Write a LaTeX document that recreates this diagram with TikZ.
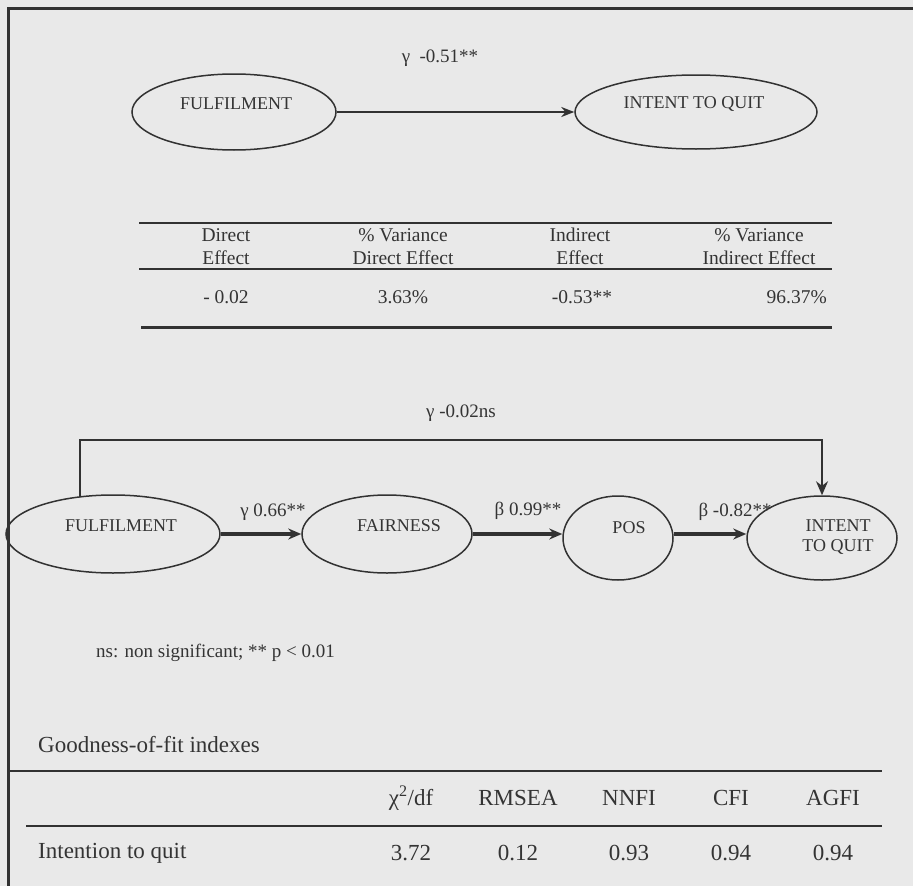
\documentclass[tikz,border=0pt]{standalone}
\usepackage{fontspec}
\setmainfont{Liberation Serif}
\usetikzlibrary{shapes.geometric,arrows.meta}

\definecolor{paper}{RGB}{233,233,233}
\definecolor{ink}{RGB}{52,52,52}
\definecolor{linec}{RGB}{50,50,50}

\tikzset{
  latent/.style={draw=linec, line width=1.5pt, ellipse, inner sep=0pt},
  lbl/.style={text=ink, inner sep=0pt, align=center, font=\fontsize{18}{20}\selectfont},
  coef/.style={text=ink, inner sep=0pt, font=\fontsize{19}{21}\selectfont},
  effect/.style={draw=linec, line width=3.4pt, -{Stealth[length=13pt,width=11pt]}},
  direct/.style={draw=linec, line width=1.8pt, -{Stealth[length=14pt,width=12pt]}},
  tcell/.style={text=ink, inner sep=0pt, align=center, font=\fontsize{19.5}{23}\selectfont},
  fcell/.style={text=ink, inner sep=0pt, font=\fontsize{23}{26}\selectfont},
  rule/.style={draw=linec, line width=1.2pt},
  frame/.style={draw=linec, line width=3pt}
}

\begin{document}
\begin{tikzpicture}[x=1pt,y=-1pt]
  % canvas
  \fill[paper] (0,0) rectangle (913,886);
  \useasboundingbox (0,0) rectangle (913,886);
  \draw[frame] (8,886) -- (8,8) -- (913,8);

  % ---- simple model ----
  \node[latent, minimum width=204pt, minimum height=76pt] (ful1) at (234,112) {};
  \node[latent, minimum width=242pt, minimum height=74pt] (itq1) at (696,112) {};
  \node[lbl] (ful1t) at (236,104) {FULFILMENT};
  \node[lbl] (itq1t) at (694,104) {INTENT TO QUIT};
  \draw[draw=linec, line width=2.6pt, -{Stealth[length=13pt,width=10pt]}] (ful1.east) -- (ful1.east -| itq1.west);
  \node[coef] (g1) at (440,58) {γ\ \ -0.51**};

  % ---- effect decomposition table ----
  \draw[rule] (139,223) -- (832,223);
  \draw[rule] (139,269) -- (832,269);
  \draw[draw=linec, line width=3pt] (141,327) -- (832,327);
  \node[tcell] (h1) at (226,246.5) {Direct\\Effect};
  \node[tcell] (h2) at (403,246.5) {\% Variance\\Direct Effect};
  \node[tcell] (h3) at (580,246.5) {Indirect\\Effect};
  \node[tcell] (h4) at (759,246.5) {\% Variance\\Indirect Effect};
  \node[tcell] (d1) at (226,297) {- 0.02};
  \node[tcell] (d2) at (403,297) {3.63\%};
  \node[tcell] (d3) at (582,297) {-0.53**};
  \node[tcell, anchor=east] (d4) at (827,297) {96.37\%};

  % ---- mediated model ----
  \node[latent, minimum width=214pt, minimum height=78pt] (ful2) at (113,534) {};
  \node[latent, minimum width=170pt, minimum height=78pt] (fair) at (387,534) {};
  \node[latent, minimum width=110pt, minimum height=84pt] (pos)  at (618,538) {};
  \node[latent, minimum width=150pt, minimum height=84pt] (itq2) at (822,538) {};
  \node[lbl] (ful2t) at (121,526) {FULFILMENT};
  \node[lbl] (fairt) at (399,526) {FAIRNESS};
  \node[lbl] (post)  at (629,528) {POS};
  \node[lbl] (itq2t) at (838,537) {INTENT\\TO QUIT};

  \draw[effect] (ful2.east) -- (fair.west);
  \draw[effect] (fair.east) -- (fair.east -| pos.west);
  \draw[effect] (pos.east |- fair.east) -- (fair.east -| itq2.west);
  \node[coef] (g2) at (273,512) {γ 0.66**};
  \node[coef] (b1) at (528,511) {β 0.99**};
  \node[coef] (b2) at (735,512) {β -0.82**};

  \coordinate (loopR) at (822,440);
  \draw[direct] (ful2.131) |- (loopR) -- (itq2.north);
  \node[coef] (g3) at (461,413) {γ -0.02ns};

  \node[coef, anchor=west] (note) at (96,653) {ns: non significant; ** p < 0.01};

  % ---- fit indexes ----
  \node[fcell, anchor=west] (fitt) at (38,745) {Goodness-of-fit indexes};
  \draw[rule] (9,771) -- (882,771);
  \draw[rule] (26,826) -- (882,826);
  \node[fcell] (c1) at (411,798) {χ\textsuperscript{2}/df};
  \node[fcell] (c2) at (518,798) {RMSEA};
  \node[fcell] (c3) at (629,798) {NNFI};
  \node[fcell] (c4) at (731,798) {CFI};
  \node[fcell] (c5) at (833,798) {AGFI};
  \node[fcell, anchor=west] (r0) at (38,853) {Intention to quit};
  \node[fcell] (r1) at (411,853) {3.72};
  \node[fcell] (r2) at (518,853) {0.12};
  \node[fcell] (r3) at (629,853) {0.93};
  \node[fcell] (r4) at (731,853) {0.94};
  \node[fcell] (r5) at (833,853) {0.94};
\end{tikzpicture}
\end{document}
